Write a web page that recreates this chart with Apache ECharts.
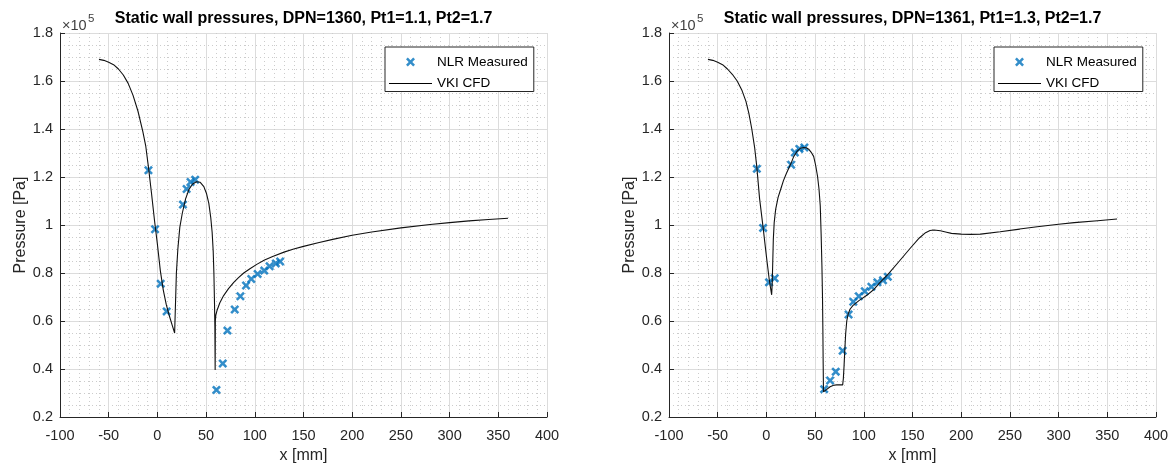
<!DOCTYPE html>
<html>
<head>
<meta charset="utf-8">
<script src="https://cdn.jsdelivr.net/npm/echarts@6/dist/echarts.min.js"></script>
<style>
  html, body { margin: 0; padding: 0; background: #fff; }
  #chart { width: 1173px; height: 466px; }
</style>
</head>
<body>
<div id="chart"></div>
<script>
// ---------------- data (pressures in units of 1e5 Pa, x in mm) ----------------
const titles = [
  'Static wall pressures, DPN=1360, Pt1=1.1, Pt2=1.7',
  'Static wall pressures, DPN=1361, Pt1=1.3, Pt2=1.7'
];
const seriesNames = ['NLR Measured', 'VKI CFD'];
const xAxisName = 'x [mm]';
const yAxisName = 'Pressure [Pa]';
const exponentBase = '×10';
const exponentLabel = '5';
const xRange = [-100, 400, 50];   // min, max, interval
const yRange = [0.2, 1.8, 0.2];

// Left plot: DPN=1360
const measL_x = [-9.2, -2.4, 3.4, 9.5, 26.2, 30, 34, 38.8, 60.6, 67.1, 71.9, 79.4, 85.2, 91, 96.4, 102.9, 109.7, 115.2, 121.6, 126];
const measL_p = [1.228, 0.982, 0.755, 0.640, 1.085, 1.150, 1.179, 1.189, 0.313, 0.423, 0.560, 0.648, 0.703, 0.748, 0.775, 0.796, 0.810, 0.828, 0.840, 0.848];
const cfdL_x = [-60, -55, -50, -45, -40, -35, -30, -25, -20, -15, -12, -9, -6, -3, 0, 3, 6, 9, 12, 15, 17.7,
  18.7, 19.5, 21, 23, 25.6, 29, 32.4, 36, 40, 44, 47.7, 50.5, 52.8, 54.8, 56.2, 57.3, 58, 58.6, 59, 59.3,
  59.5, 60, 61.3, 64, 68, 73, 78.4, 83, 88.6, 95, 102, 110, 119, 130, 140, 150, 165, 180, 200, 220, 250, 280, 300, 320, 340, 360];
const cfdL_p = [1.690, 1.686, 1.678, 1.668, 1.650, 1.625, 1.590, 1.540, 1.475, 1.390, 1.330, 1.235, 1.130, 1.020, 0.920, 0.810, 0.730, 0.670, 0.625, 0.585, 0.550,
  0.690, 0.800, 0.900, 0.990, 1.050, 1.110, 1.148, 1.170, 1.180, 1.178, 1.160, 1.130, 1.090, 1.030, 0.970, 0.890, 0.800, 0.680, 0.580, 0.396,
  0.600, 0.625, 0.645, 0.675, 0.706, 0.735, 0.761, 0.780, 0.800, 0.818, 0.836, 0.854, 0.870, 0.887, 0.900, 0.911, 0.926, 0.940, 0.957, 0.971, 0.988, 1.002, 1.010, 1.017, 1.023, 1.028];

// Right plot: DPN=1361
const measR_x = [-9.8, -3.4, 2.7, 8.5, 25.4, 29.2, 33.9, 39, 59.3, 65.4, 71.2, 78.3, 84.4, 89.2, 94.9, 101, 107.8, 113.9, 119.7, 124.7];
const measR_p = [1.234, 0.988, 0.761, 0.778, 1.251, 1.302, 1.317, 1.323, 0.316, 0.352, 0.389, 0.476, 0.627, 0.680, 0.703, 0.724, 0.743, 0.761, 0.770, 0.784];
const cfdR_x = [-60, -55, -50, -45, -40, -35, -30, -25, -21, -18, -15, -12, -9.8, -7, -3.4, 0, 3, 5.4,
  6, 7.1, 8, 9.5, 12, 14.6, 17.5, 20.7, 25.4, 28, 31.5, 35, 38.3, 41, 43.4, 46, 48.5, 50.5, 52.5, 54, 55.3, 56.2, 57, 57.6, 58, 58.3, 58.6,
  60.3, 62, 65.4, 69, 72.2, 76, 78.3, 79, 79.7, 80.5, 81.4, 82.5, 84, 86, 89, 95, 102.7, 110, 116, 125, 136.6, 147, 157, 163.4, 168, 172, 178.6, 185, 190, 200, 210, 220, 240, 260, 278, 300, 316, 340, 360];
const cfdR_p = [1.690, 1.686, 1.678, 1.668, 1.650, 1.628, 1.600, 1.560, 1.515, 1.465, 1.400, 1.320, 1.240, 1.110, 0.990, 0.870, 0.770, 0.709,
  0.760, 0.940, 1.010, 1.065, 1.115, 1.148, 1.185, 1.217, 1.258, 1.285, 1.307, 1.320, 1.323, 1.322, 1.316, 1.303, 1.286, 1.250, 1.203, 1.150, 1.079, 0.960, 0.830, 0.700, 0.552, 0.420, 0.305,
  0.306, 0.315, 0.326, 0.332, 0.334, 0.334, 0.334, 0.360, 0.410, 0.480, 0.548, 0.600, 0.630, 0.650, 0.665, 0.685, 0.706, 0.730, 0.758, 0.795, 0.850, 0.900, 0.946, 0.968, 0.977, 0.979, 0.976, 0.970, 0.965, 0.962, 0.961, 0.962, 0.972, 0.983, 0.993, 1.003, 1.010, 1.018, 1.025];

// ---------------- chart ----------------
const FONT = '"Liberation Sans", Arial, Helvetica, sans-serif';
const AX = '#262626';
const XMARK = 'path://M2,0 L5,3 L8,0 L10,2 L7,5 L10,8 L8,10 L5,7 L2,10 L0,8 L3,5 L0,2 Z';
const LINEICON = 'path://M0,0 L43,0 L43,1 L0,1 Z';
const zip = (a, b) => a.map((v, i) => [v, b[i]]);

const grids = [
  { left: 60, top: 33, width: 487, height: 384, outerBoundsMode: 'none', containLabel: false },
  { left: 669, top: 33, width: 487, height: 384, outerBoundsMode: 'none', containLabel: false }
];

const minorStyle = { color: '#cccccc', width: 1, type: [1, 3] };
function xAxisFor(i) {
  return {
    type: 'value', gridIndex: i, min: xRange[0], max: xRange[1], interval: xRange[2],
    name: xAxisName, nameLocation: 'middle', nameGap: 30,
    nameTextStyle: { fontFamily: FONT, fontSize: 16, color: AX },
    axisLine: { show: true, onZero: false, lineStyle: { color: AX, width: 1 } },
    axisTick: { show: true, inside: true, length: 5, lineStyle: { color: AX } },
    axisLabel: { fontFamily: FONT, fontSize: 14.5, color: AX, margin: 11 },
    splitLine: { show: true, lineStyle: { color: '#dcdcdc', width: 1 } },
    minorTick: { show: false, splitNumber: 5 },
    minorSplitLine: { show: true, lineStyle: minorStyle }
  };
}
function yAxisFor(i) {
  return {
    type: 'value', gridIndex: i, min: yRange[0], max: yRange[1], interval: yRange[2],
    name: yAxisName, nameLocation: 'middle', nameGap: 31,
    nameTextStyle: { fontFamily: FONT, fontSize: 16, color: AX },
    axisLine: { show: true, onZero: false, lineStyle: { color: AX, width: 1 } },
    axisTick: { show: true, inside: true, length: 5, lineStyle: { color: AX } },
    axisLabel: { fontFamily: FONT, fontSize: 14.5, color: AX, margin: 7,
      formatter: v => String(+v.toFixed(1)) },
    splitLine: { show: true, lineStyle: { color: '#dcdcdc', width: 1 } },
    minorTick: { show: false, splitNumber: 4 },
    minorSplitLine: { show: true, lineStyle: minorStyle }
  };
}
function legendFor(i) {
  return {
    orient: 'vertical', left: grids[i].left + 325, top: 47,
    backgroundColor: '#fff', borderColor: AX, borderWidth: 1, borderRadius: 0,
    padding: [8, 6, 1, 4], itemGap: 7.5, itemWidth: 43, itemHeight: 9,
    textStyle: { fontFamily: FONT, fontSize: 13.5, color: '#000', lineHeight: 11 },
    selectedMode: false,
    data: [{ name: seriesNames[0], icon: XMARK }, { name: seriesNames[1], icon: LINEICON }]
  };
}

const measured = [zip(measL_x, measL_p), zip(measR_x, measR_p)];
const cfd = [zip(cfdL_x, cfdL_p), zip(cfdR_x, cfdR_p)];

const series = [];
[0, 1].forEach(i => {
  series.push({
    name: seriesNames[0], type: 'scatter', xAxisIndex: i, yAxisIndex: i,
    symbol: XMARK, symbolSize: 9, itemStyle: { color: '#0072BD' }, z: 2,
    data: measured[i]
  });
  series.push({
    name: seriesNames[1], type: 'line', xAxisIndex: i, yAxisIndex: i,
    symbol: 'none', showSymbol: false, smooth: false, z: 3,
    lineStyle: { color: '#111', width: 1.1 }, itemStyle: { color: '#000' },
    data: cfd[i]
  });
});

const graphic = [];
[0, 1].forEach(i => {
  const g = grids[i];
  graphic.push({
    type: 'text', x: g.left + g.width / 2, y: 19,
    style: { text: titles[i], fontFamily: FONT, fontSize: 16, fontWeight: 'bold', fill: '#000',
      align: 'center', verticalAlign: 'middle' }
  });
  graphic.push({
    type: 'text', x: g.left + 2, y: 25.5,
    style: { text: exponentBase, fontFamily: FONT, fontSize: 14.5, fill: '#404040',
      align: 'left', verticalAlign: 'middle' }
  });
  graphic.push({
    type: 'text', x: g.left + 28, y: 19,
    style: { text: exponentLabel, fontFamily: FONT, fontSize: 11.5, fill: '#404040',
      align: 'left', verticalAlign: 'middle' }
  });
});

const chart = echarts.init(document.getElementById('chart'), null, { renderer: 'canvas' });
chart.setOption({
  animation: false,
  backgroundColor: '#fff',
  grid: grids,
  xAxis: [xAxisFor(0), xAxisFor(1)],
  yAxis: [yAxisFor(0), yAxisFor(1)],
  legend: [legendFor(0), legendFor(1)],
  series: series,
  graphic: graphic
});
</script>
</body>
</html>
